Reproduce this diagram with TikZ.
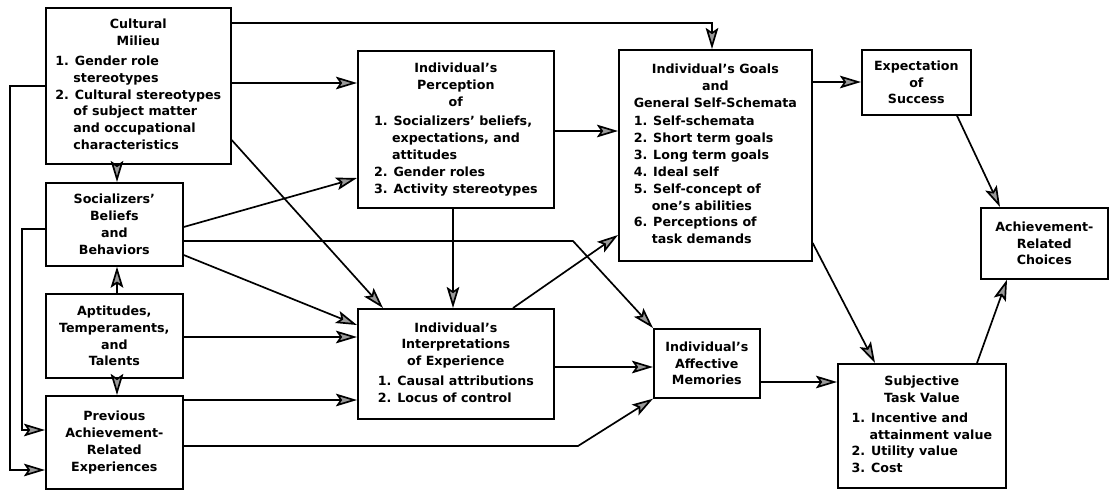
\documentclass[tikz,border=0pt]{standalone}
\usepackage{fontspec}
\setmainfont{DejaVu Sans}
\usepackage{tikz}
\usetikzlibrary{calc, positioning, arrows.meta}
\newcommand{\hd}[1]{\multicolumn{1}{@{}c@{}}{#1}}
\newcommand{\ind}{\hphantom{1.\ }}

\begin{document}
\begin{tikzpicture}[x=0.025cm, y=-0.025cm,
                every node/.style={font=\fontsize{9}{12}\selectfont\bfseries, inner sep=1mm},
                box/.style={draw, line width=1.2pt, anchor=north west},
                arr/.style={draw, line width=1.2pt, -{Stealth[length=15pt, width=9pt, inset=3pt, fill=black!40]}},
                ]

    \useasboundingbox (0,0) rectangle (1112,495); % same proportions as the page

    \node [box, minimum width=185*0.025cm, minimum height=156*0.025cm] (cm) at (45,7)
        {\begin{tabular}{@{}l@{}}\hd{Cultural}\\ \hd{Milieu}\\[2pt]
         1. Gender role\\ \ind stereotypes\\ 2. Cultural stereotypes\\ \ind of subject matter\\ \ind and occupational\\ \ind characteristics\end{tabular}};
    \node [box, align=center, minimum width=137*0.025cm, minimum height=83*0.025cm] (soc) at (45,182)
        {Socializers'\\ Beliefs\\ and\\ Behaviors};
    \node [box, align=center, minimum width=137*0.025cm, minimum height=84*0.025cm] (apt) at (45,293)
        {Aptitudes,\\ Temperaments,\\ and\\ Talents};
    \node [box, align=center, minimum width=137*0.025cm, minimum height=93*0.025cm] (prev) at (45,395)
        {Previous\\ Achievement-\\ Related\\ Experiences};
    \node [box, minimum width=196*0.025cm, minimum height=157*0.025cm] (per) at (357,50)
        {\begin{tabular}{@{}l@{}}\hd{Individual's}\\ \hd{Perception}\\ \hd{of}\\[2pt]
         1. Socializers' beliefs,\\ \ind expectations, and\\ \ind attitudes\\ 2. Gender roles\\ 3. Activity stereotypes\end{tabular}};
    \node [box, minimum width=196*0.025cm, minimum height=110*0.025cm] (intp) at (357,308)
        {\begin{tabular}{@{}l@{}}\hd{Individual's}\\ \hd{Interpretations}\\ \hd{of Experience}\\[2pt]
         1. Causal attributions\\ 2. Locus of control\end{tabular}};
    \node [box, minimum width=193*0.025cm, minimum height=211*0.025cm] (goals) at (618,49)
        {\begin{tabular}{@{}l@{}}\hd{Individual's Goals}\\ \hd{and}\\ \hd{General Self-Schemata}\\[1pt]
         1. Self-schemata\\ 2. Short term goals\\ 3. Long term goals\\ 4. Ideal self\\ 5. Self-concept of\\ \ind one's abilities\\ 6. Perceptions of\\ \ind task demands\end{tabular}};
    \node [box, align=center, minimum width=106*0.025cm, minimum height=69*0.025cm] (aff) at (653,328)
        {Individual's\\ Affective\\ Memories};
    \node [box, align=center, minimum width=109*0.025cm, minimum height=65*0.025cm] (exp) at (861,49)
        {Expectation\\ of\\ Success};
    \node [box, align=center, minimum width=127*0.025cm, minimum height=71*0.025cm] (choice) at (980,207)
        {Achievement-\\ Related\\ Choices};
    \node [box, minimum width=168*0.025cm, minimum height=124*0.025cm] (stv) at (837,363)
        {\begin{tabular}{@{}l@{}}\hd{Subjective}\\ \hd{Task Value}\\[2pt]
         1. Incentive and\\ \ind attainment value\\ 2. Utility value\\ 3. Cost\end{tabular}};

    % left column
    \draw [arr] (cm.east |- 0,23) -| (goals.north -| 712,0);
    \draw [arr] (cm.east |- 0,83) -- (per.west |- 0,83);
    \draw [arr] (cm.south -| 117,0) -- (soc.north -| 117,0);
    \draw [arr] (cm.east |- 0,140) -- (intp.north -| 383,0);
    \draw [arr] (cm.west |- 0,86) -- ++(-35,0) |- (prev.west |- 0,470);
    \draw [arr] (soc.west |- 0,229) -- ++(-23,0) |- (prev.west |- 0,430);
    \draw [arr] (apt.north -| 117,0) -- (soc.south -| 117,0);
    \draw [arr] (apt.south -| 117,0) -- (prev.north -| 117,0);
    \draw [arr] (soc.east |- 0,227) -- (per.west |- 0,178);
    \draw [arr] (soc.east |- 0,241) -- (573,241) -- (aff.north west);
    \draw [arr] (soc.east |- 0,255) -- (intp.west |- 0,325);
    \draw [arr] (apt.east |- 0,337) -- (intp.west |- 0,337);
    \draw [arr] (prev.east |- 0,400) -- (intp.west |- 0,400);
    \draw [arr] (prev.east |- 0,446) -- (578,446) -- (aff.south west);

    % middle and right
    \draw [arr] (per.east |- 0,131) -- (goals.west |- 0,131);
    \draw [arr] (per.south -| 453,0) -- (intp.north -| 453,0);
    \draw [arr] (intp.north -| 513,0) -- (goals.west |- 0,235);
    \draw [arr] (intp.east |- 0,367) -- (aff.west |- 0,367);
    \draw [arr] (goals.east |- 0,82) -- (exp.west |- 0,82);
    \draw [arr] (goals.east |- 0,243) -- (stv.north -| 875,0);
    \draw [arr] (exp.south -| 957,0) -- (choice.north -| 1000,0);
    \draw [arr] (aff.east |- 0,382) -- (stv.west |- 0,382);
    \draw [arr] (stv.north -| 977,0) -- (choice.south -| 1007,0);

\end{tikzpicture}
\end{document}
